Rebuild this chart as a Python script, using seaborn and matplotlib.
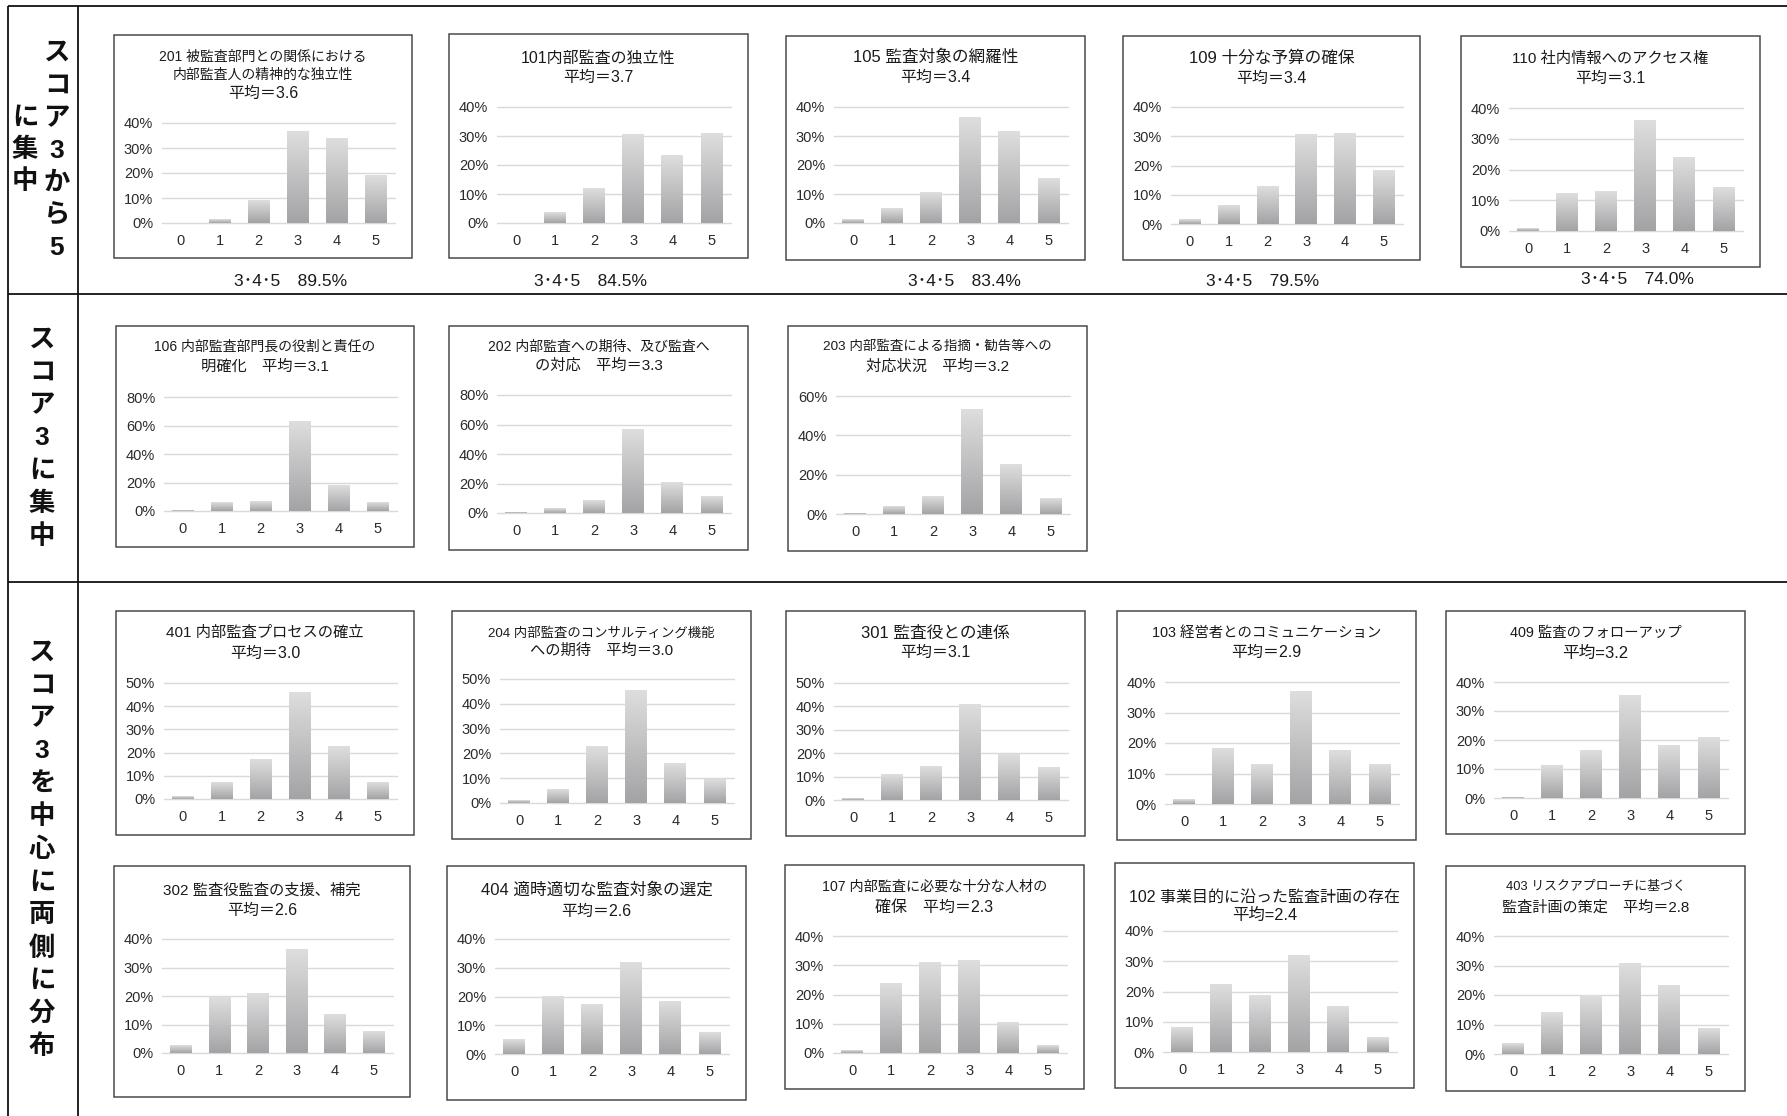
import numpy as np
import pandas as pd
import matplotlib
matplotlib.use("Agg")
import matplotlib.pyplot as plt
import seaborn as sns
from matplotlib.patches import Rectangle
from matplotlib.lines import Line2D
from matplotlib.colors import LinearSegmentedColormap

# ---------------------------------------------------------------- data
SCORES = ["0", "1", "2", "3", "4", "5"]

# share of respondents (%) for each score 0-5, per evaluation item
p201 = [0.0, 1.6, 8.9, 36.8, 33.8, 18.9]
p101 = [0.0, 3.7, 11.8, 30.6, 23.2, 30.7]
p105 = [1.2, 5.0, 10.4, 36.5, 31.7, 15.2]
p109 = [1.5, 6.3, 12.7, 30.5, 30.8, 18.2]
p110 = [0.9, 12.1, 13.0, 36.0, 23.9, 14.1]
p106 = [0.4, 5.8, 6.6, 63.0, 18.0, 6.2]
p202 = [0.4, 2.9, 8.2, 56.5, 21.0, 11.0]
p203 = [0.5, 3.6, 9.0, 53.3, 25.3, 7.9]
p401 = [1.0, 6.9, 16.9, 45.8, 22.5, 6.9]
p204 = [1.1, 5.4, 22.7, 45.5, 15.9, 9.5]
p301 = [0.7, 10.8, 14.4, 40.9, 19.4, 13.8]
p103 = [1.4, 18.2, 13.1, 36.9, 17.7, 13.1]
p409 = [0.3, 11.1, 16.3, 35.3, 18.0, 20.7]
p302 = [2.5, 19.4, 20.8, 36.2, 13.5, 7.6]
p404 = [4.9, 20.0, 17.3, 32.0, 18.4, 7.4]
p107 = [0.9, 23.7, 30.9, 31.7, 10.3, 2.6]
p102 = [8.1, 22.2, 18.6, 31.9, 15.2, 4.8]
p403 = [3.7, 13.9, 19.8, 30.8, 23.1, 8.8]

t201 = ["201 被監査部門との関係における", "内部監査人の精神的な独立性", "平均＝3.6"]
t101 = ["101内部監査の独立性", "平均＝3.7"]
t105 = ["105 監査対象の網羅性", "平均＝3.4"]
t109 = ["109 十分な予算の確保", "平均＝3.4"]
t110 = ["110 社内情報へのアクセス権", "平均＝3.1"]
t106 = ["106 内部監査部門長の役割と責任の", "明確化　平均＝3.1"]
t202 = ["202 内部監査への期待、及び監査へ", "の対応　平均＝3.3"]
t203 = ["203 内部監査による指摘・勧告等への", "対応状況　平均＝3.2"]
t401 = ["401 内部監査プロセスの確立", "平均＝3.0"]
t204 = ["204 内部監査のコンサルティング機能", "への期待　平均＝3.0"]
t301 = ["301 監査役との連係", "平均＝3.1"]
t103 = ["103 経営者とのコミュニケーション", "平均＝2.9"]
t409 = ["409 監査のフォローアップ", "平均=3.2"]
t302 = ["302 監査役監査の支援、補完", "平均＝2.6"]
t404 = ["404 適時適切な監査対象の選定", "平均＝2.6"]
t107 = ["107 内部監査に必要な十分な人材の", "確保　平均＝2.3"]
t102 = ["102 事業目的に沿った監査計画の存在", "平均=2.4"]
t403 = ["403 リスクアプローチに基づく", "監査計画の策定　平均＝2.8"]

row_labels = ["スコア3から5に集中", "スコア3に集中", "スコア3を中心に両側に分布"]
summary_prefix = "3･4･5　"

# ---------------------------------------------------------------- layout (pixels)
W, H = 1787, 1116
# values, title, y-max, y-step, box(x0,y0,x1,y1), plot(top,bottom), title line y, title sizes
PANELS = [
    (p201, t201, 40, 10, (114, 35, 412, 258), (123, 223), (57, 75, 93), (10, 10, 11.5)),
    (p101, t101, 40, 10, (449, 34, 748, 258), (107, 223), (58, 77), (11.5, 11.5)),
    (p105, t105, 40, 10, (786, 36, 1085, 260), (107, 223), (57, 77), (12, 11.5)),
    (p109, t109, 40, 10, (1123, 36, 1420, 260), (107, 224), (58, 78), (12, 11.5)),
    (p110, t110, 40, 10, (1461, 36, 1760, 267), (108, 231), (59, 78), (11, 11.5)),
    (p106, t106, 80, 20, (116, 326, 414, 547), (397, 511), (347, 367), (10, 11)),
    (p202, t202, 80, 20, (449, 326, 748, 550), (395, 513), (347, 366), (10, 11)),
    (p203, t203, 60, 20, (788, 326, 1087, 551), (396, 514), (347, 367), (9.7, 11)),
    (p401, t401, 50, 10, (116, 611, 414, 835), (683, 799), (633, 653), (11, 11.5)),
    (p204, t204, 50, 10, (452, 611, 751, 839), (679, 803), (633, 651), (9.6, 11)),
    (p301, t301, 50, 10, (786, 611, 1085, 836), (683, 800), (633, 652), (12, 11.5)),
    (p103, t103, 40, 10, (1117, 611, 1416, 840), (682, 804), (633, 652), (10.4, 11.5)),
    (p409, t409, 40, 10, (1446, 611, 1745, 834), (682, 798), (633, 653), (10.4, 12)),
    (p302, t302, 40, 10, (114, 866, 410, 1097), (939, 1053), (891, 910), (11, 11.5)),
    (p404, t404, 40, 10, (447, 866, 746, 1100), (939, 1054), (890, 911), (12, 11.5)),
    (p107, t107, 40, 10, (785, 865, 1084, 1089), (936, 1053), (887, 907), (10.2, 11.5)),
    (p102, t102, 40, 10, (1115, 863, 1414, 1088), (931, 1052), (897, 915), (11.5, 11.8)),
    (p403, t403, 40, 10, (1446, 866, 1745, 1091), (936, 1054), (887, 908), (9.3, 10.9)),
]
# summary line under the first-row charts: (x centre, y centre)
SUMMARY_POS = [(291, 282), (590, 282), (964, 282), (1263, 282), (1637, 280)]

# ---------------------------------------------------------------- style
sns.set_style("white")
plt.rcParams["font.family"] = ["Liberation Sans", "Noto Sans CJK JP", "DejaVu Sans"]

fig = plt.figure(figsize=(W / 100, H / 100), dpi=100)
fig.patch.set_facecolor("white")


def fx(x):
    return x / W


def fy(y):
    return 1 - y / H


def fig_line(x0, y0, x1, y1, lw=1.3, color="#111111"):
    fig.add_artist(Line2D([fx(x0), fx(x1)], [fy(y0), fy(y1)], color=color, lw=lw,
                          transform=fig.transFigure, solid_capstyle="butt"))


# table frame
fig_line(8, 6, W, 6)
fig_line(8, 6, 8, H)
fig_line(78, 6, 78, H)
fig_line(8, 294, W, 294)
fig_line(8, 582, W, 582)

# row headings (vertical Japanese text)
LABEL_FS = 19


def vtext(chars, x, y0, step):
    for i, ch in enumerate(chars):
        fig.text(fx(x), fy(y0 + i * step), ch, ha="center", va="center",
                 fontsize=LABEL_FS, fontweight="bold", color="#111111")


vtext(row_labels[0][:7], 57, 53, 32.5)
vtext(row_labels[0][7:], 25, 118, 32)
vtext(row_labels[1], 42, 340, 32.8)
vtext(row_labels[2], 42, 653, 32.8)

bar_cmap = LinearSegmentedColormap.from_list("bar", ["#dededf", "#a3a3a5"])
grad = np.linspace(0, 1, 256).reshape(-1, 1)

for i, (vals, title, ymax, ystep, box, ploty, title_y, title_fs) in enumerate(PANELS):
    bx0, by0, bx1, by1 = box
    # chart frame
    fig.add_artist(Rectangle((fx(bx0), fy(by1)), fx(bx1) - fx(bx0), fy(by0) - fy(by1),
                             transform=fig.transFigure, facecolor="white",
                             edgecolor="#4a4a4a", lw=1.1, zorder=0))
    # titles
    cx = (bx0 + bx1) / 2
    for line, ty, fs in zip(title, title_y, title_fs):
        fig.text(fx(cx), fy(ty), line, ha="center", va="center", fontsize=fs, color="#1a1a1a")

    gx0, gx1 = bx0 + 47.5, bx1 - 17
    top, bottom = ploty
    ax = fig.add_axes([fx(gx0), fy(bottom), fx(gx1) - fx(gx0), fy(top) - fy(bottom)])
    ax.patch.set_alpha(0)

    df = pd.DataFrame({"score": SCORES, "pct": vals})
    sns.barplot(data=df, x="score", y="pct", ax=ax, color="#c2c2c4", width=0.56,
                saturation=1, edgecolor="none", errorbar=None)
    # vertical shading of each bar: light at the top, darker at the base
    for bar in list(ax.patches):
        h = bar.get_height()
        if h <= 0:
            continue
        x0, w = bar.get_x(), bar.get_width()
        ax.imshow(grad, extent=[x0, x0 + w, 0, h], origin="upper", cmap=bar_cmap,
                  aspect="auto", zorder=bar.get_zorder() + 0.1, interpolation="bilinear")
        bar.set_facecolor("none")

    ax.set_xlim(-0.5, 5.5)
    ax.set_ylim(0, ymax)
    yt = np.arange(0, ymax + 0.1, ystep)
    ax.set_yticks(yt)
    ax.set_yticklabels([f"{int(v)}%" for v in yt])
    ax.yaxis.grid(True, color="#d9d9d9", lw=1.0)
    ax.xaxis.grid(False)
    ax.set_axisbelow(True)
    for gl in ax.get_ygridlines():
        gl.set_clip_on(False)
    for s in ax.spines.values():
        s.set_visible(False)
    ax.set_xlabel("")
    ax.set_ylabel("")
    ax.tick_params(axis="y", length=0, labelsize=10.5, colors="#2b2b2b", pad=6)
    ax.tick_params(axis="x", length=0, labelsize=10.5, colors="#2b2b2b", pad=8)

    if i < len(SUMMARY_POS):
        sx, sy = SUMMARY_POS[i]
        total = round(sum(vals[3:]), 1)
        fig.text(fx(sx), fy(sy), f"{summary_prefix}{total:.1f}%", ha="center", va="center",
                 fontsize=12.5, color="#1a1a1a")

fig.savefig("out.png", dpi=100, facecolor="white")
